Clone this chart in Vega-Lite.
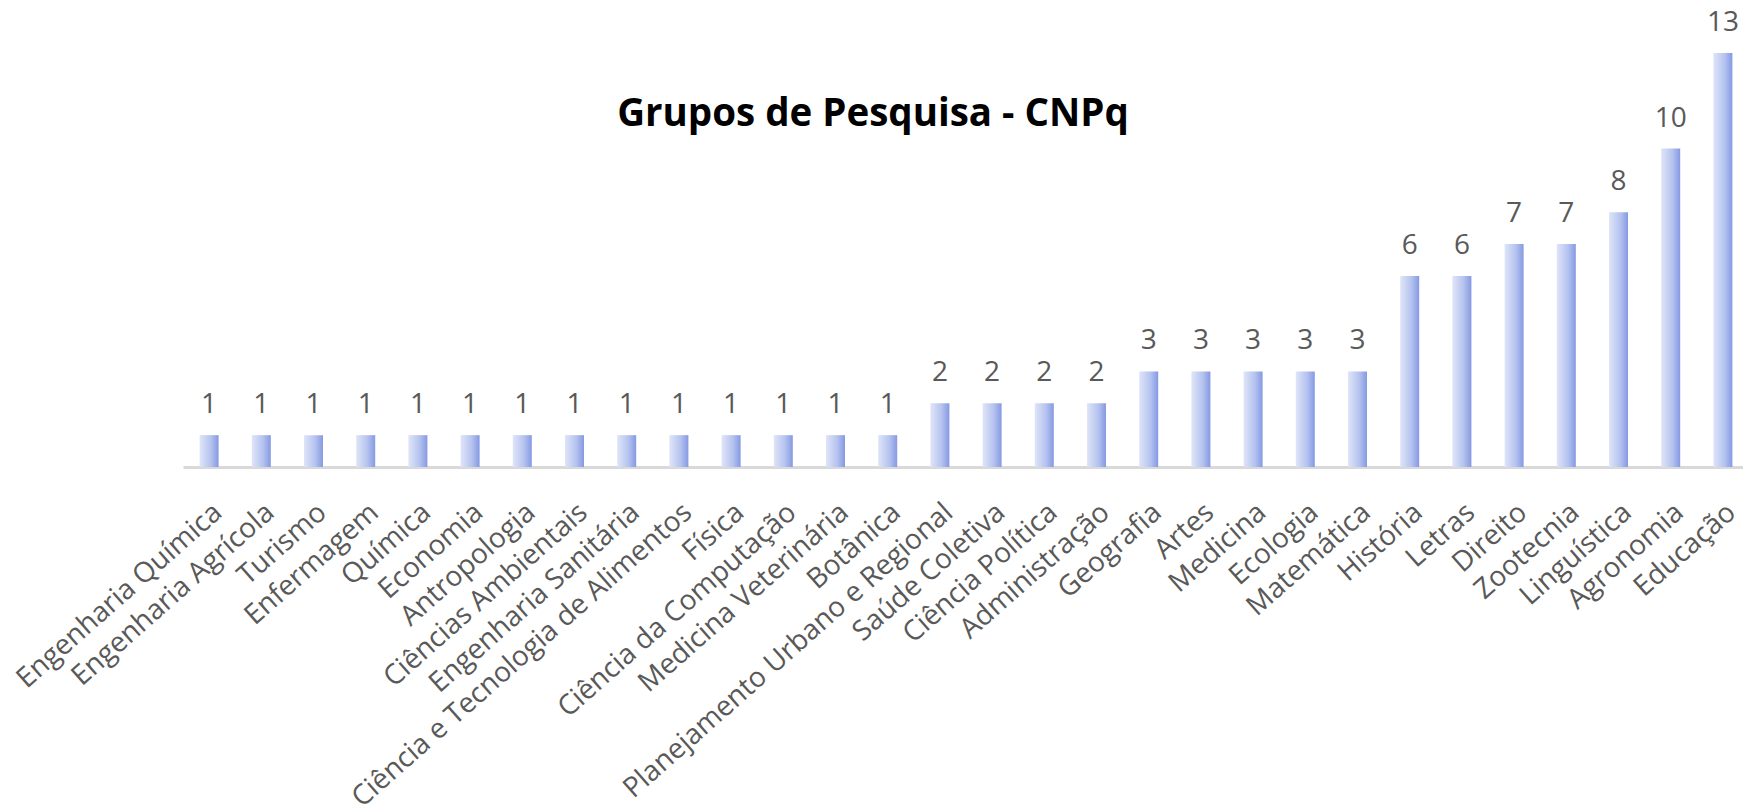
{
  "$schema": "https://vega.github.io/schema/vega-lite/v6.json",
  "autosize": {"type": "none"},
  "padding": {"left": 183, "top": 53, "right": 0, "bottom": 344},
  "width": 1566,
  "height": 414,
  "background": "white",
  "title": {
    "text": "Grupos de Pesquisa - CNPq",
    "font": "Open Sans",
    "fontSize": 38.5,
    "fontWeight": "bold",
    "color": "#000000",
    "anchor": "middle",
    "frame": "group",
    "baseline": "alphabetic",
    "dx": -93,
    "dy": 159
  },
  "data": {
    "values": [
      {"area": "Engenharia Química", "grupos": 1},
      {"area": "Engenharia Agrícola", "grupos": 1},
      {"area": "Turismo", "grupos": 1},
      {"area": "Enfermagem", "grupos": 1},
      {"area": "Química", "grupos": 1},
      {"area": "Economia", "grupos": 1},
      {"area": "Antropologia", "grupos": 1},
      {"area": "Ciências Ambientais", "grupos": 1},
      {"area": "Engenharia Sanitária", "grupos": 1},
      {"area": "Ciência e Tecnologia de Alimentos", "grupos": 1},
      {"area": "Física", "grupos": 1},
      {"area": "Ciência da Computação", "grupos": 1},
      {"area": "Medicina Veterinária", "grupos": 1},
      {"area": "Botânica", "grupos": 1},
      {"area": "Planejamento Urbano e Regional", "grupos": 2},
      {"area": "Saúde Coletiva", "grupos": 2},
      {"area": "Ciência Política", "grupos": 2},
      {"area": "Administração", "grupos": 2},
      {"area": "Geografia", "grupos": 3},
      {"area": "Artes", "grupos": 3},
      {"area": "Medicina", "grupos": 3},
      {"area": "Ecologia", "grupos": 3},
      {"area": "Matemática", "grupos": 3},
      {"area": "História", "grupos": 6},
      {"area": "Letras", "grupos": 6},
      {"area": "Direito", "grupos": 7},
      {"area": "Zootecnia", "grupos": 7},
      {"area": "Linguística", "grupos": 8},
      {"area": "Agronomia", "grupos": 10},
      {"area": "Educação", "grupos": 13}
    ]
  },
  "encoding": {
    "x": {
      "field": "area",
      "type": "nominal",
      "sort": null,
      "title": null,
      "scale": {"paddingInner": 0.636, "paddingOuter": 0.318},
      "axis": {
        "labelAngle": -41.5,
        "labelFont": "Open Sans",
        "labelFontSize": 28,
        "labelColor": "#595959",
        "labelPadding": 31,
        "labelOverlap": false,
        "labelLimit": 0,
        "ticks": false,
        "domainColor": "#d9d9d9",
        "domainWidth": 3,
        "grid": false
      }
    },
    "y": {
      "field": "grupos",
      "type": "quantitative",
      "scale": {"domain": [0, 13], "nice": false},
      "axis": null
    }
  },
  "layer": [
    {
      "mark": {
        "type": "bar",
        "color": {
          "gradient": "linear",
          "x1": 0, "y1": 0, "x2": 1, "y2": 0,
          "stops": [
            {"offset": 0, "color": "#dfe5f8"},
            {"offset": 0.6, "color": "#b4c2ef"},
            {"offset": 1, "color": "#8599e3"}
          ]
        }
      }
    },
    {
      "mark": {
        "type": "text",
        "font": "Open Sans",
        "fontSize": 28,
        "color": "#595959",
        "baseline": "alphabetic",
        "dy": -22
      },
      "encoding": {"text": {"field": "grupos", "type": "quantitative"}}
    }
  ],
  "config": {"view": {"stroke": null}}
}
